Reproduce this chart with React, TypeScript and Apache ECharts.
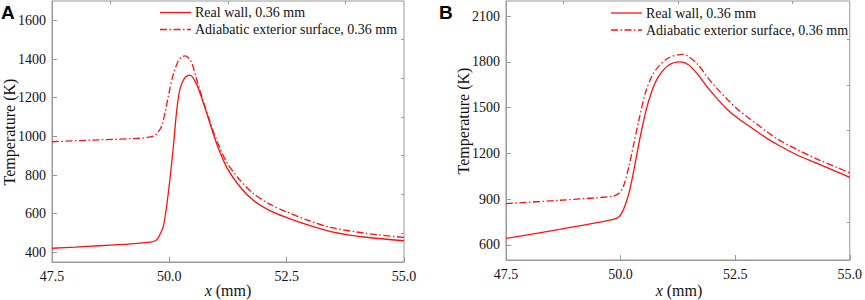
import React, { useEffect, useRef } from "react";
import * as echarts from "echarts";

// ---------- Data ----------
// Panel A
const aRealX = [47.5, 48.0, 48.5, 49.0, 49.375, 49.6, 49.7, 49.76, 49.8, 49.87, 49.94, 50.01, 50.085, 50.157, 50.227, 50.33, 50.44, 50.58, 50.72, 50.87, 51.01, 51.22, 51.51, 51.79, 52.14, 52.5, 53.0, 53.49, 54.2, 55.0];
const aRealY = [421, 427, 434, 441, 448, 453, 460, 474, 492, 532, 635, 772, 944, 1133, 1245, 1304, 1317, 1270, 1176, 1064, 961, 841, 738, 669, 616, 580, 538, 505, 478, 460];
const aAdiaX = [47.5, 48.5, 49.375, 49.6, 49.69, 49.76, 49.84, 49.91, 49.98, 50.085, 50.19, 50.26, 50.33, 50.4, 50.475, 50.58, 50.72, 50.87, 51.01, 51.22, 51.51, 51.79, 52.14, 52.5, 53.0, 53.49, 54.2, 55.0];
const aAdiaY = [972, 982, 990, 997, 1004, 1021, 1056, 1124, 1210, 1322, 1390, 1410, 1416, 1408, 1382, 1296, 1184, 1073, 978, 867, 772, 704, 649, 609, 561, 526, 498, 477];

// Panel B
const bRealX = [47.5, 48.67, 49.82, 49.96, 50.07, 50.18, 50.29, 50.4, 50.54, 50.68, 50.83, 51.04, 51.3, 51.48, 51.69, 51.91, 52.13, 52.34, 52.56, 52.77, 52.99, 53.21, 53.42, 53.85, 54.29, 54.72, 55.0];
const bRealY = [642, 701, 765, 782, 837, 936, 1090, 1266, 1463, 1606, 1705, 1777, 1800, 1782, 1716, 1628, 1551, 1485, 1430, 1386, 1340, 1295, 1258, 1189, 1134, 1079, 1042];
const bAdiaX = [47.5, 48.67, 49.82, 49.96, 50.07, 50.18, 50.29, 50.4, 50.54, 50.68, 50.83, 51.04, 51.35, 51.48, 51.69, 51.91, 52.13, 52.34, 52.56, 52.77, 52.99, 53.21, 53.42, 53.85, 54.29, 54.72, 55.0];
const bAdiaY = [870, 892, 918, 936, 991, 1112, 1266, 1419, 1595, 1705, 1771, 1826, 1850, 1836, 1782, 1694, 1617, 1551, 1488, 1438, 1388, 1338, 1295, 1225, 1162, 1108, 1072];

// Axes
const xMajor = [47.5, 50.0, 52.5, 55.0];
const xMinor = [48.75, 51.25, 53.75];
const aYMajor = [400, 600, 800, 1000, 1200, 1400, 1600];
const aYMinor = [500, 700, 900, 1100, 1300, 1500];
const bYMajor = [600, 900, 1200, 1500, 1800, 2100];
const bYMinor = [750, 1050, 1350, 1650, 1950];

const seriesNames = ["Real wall, 0.36 mm", "Adiabatic exterior surface, 0.36 mm"];
const panelLabels = ["A", "B"];
const yTitle = "Temperature (K)";

const pairs = (xs: number[], ys: number[]) => xs.map((x, i) => [x, ys[i]]);

const RED = "#ff1010";
const AXIS = "#999";
const TEXT = "#111";
const SERIF = "Liberation Serif";
const DASHDOT = [7, 2.5, 1.5, 2.5];

export default function App() {
  const ref = useRef<HTMLDivElement>(null);

  useEffect(() => {
    if (!ref.current) return;
    const chart = echarts.init(ref.current, undefined, { renderer: "svg" });

    const grids = [
      { left: 52, top: 1, width: 352, height: 261 },
      { left: 506, top: 1, width: 347, height: 259 },
    ];

    const xAxes: any[] = [];
    const yAxes: any[] = [];
    const yRanges = [
      { min: 350, max: 1700, major: aYMajor, minor: aYMinor },
      { min: 500, max: 2200, major: bYMajor, minor: bYMinor },
    ];

    grids.forEach((_, g) => {
      xAxes.push({
        type: "value",
        gridIndex: g,
        min: 47.5,
        max: 55,
        axisLine: { show: true, onZero: false, lineStyle: { color: AXIS, width: 1 } },
        axisTick: { show: true, inside: true, length: 5, customValues: xMajor, lineStyle: { color: AXIS } },
        axisLabel: {
          show: true,
          customValues: xMajor,
          color: TEXT,
          fontFamily: SERIF,
          fontSize: 14,
          margin: 7,
          formatter: (v: number) => Number(v).toFixed(1),
        },
        splitLine: { show: false },
      });
      xAxes.push({
        type: "value",
        gridIndex: g,
        min: 47.5,
        max: 55,
        axisLine: { show: false, onZero: false },
        axisTick: { show: true, inside: true, length: 3, customValues: xMinor, lineStyle: { color: AXIS } },
        axisLabel: { show: false },
        splitLine: { show: false },
      });
      const r = yRanges[g];
      yAxes.push({
        type: "value",
        gridIndex: g,
        min: r.min,
        max: r.max,
        axisLine: { show: true, onZero: false, lineStyle: { color: AXIS, width: 1 } },
        axisTick: { show: true, inside: true, length: 5, customValues: r.major, lineStyle: { color: AXIS } },
        axisLabel: {
          show: true,
          customValues: r.major,
          color: TEXT,
          fontFamily: SERIF,
          fontSize: 14,
          margin: 6,
          formatter: (v: number) => String(Math.round(Number(v))),
        },
        splitLine: { show: false },
      });
      yAxes.push({
        type: "value",
        gridIndex: g,
        min: r.min,
        max: r.max,
        axisLine: { show: false, onZero: false },
        axisTick: { show: true, inside: true, length: 3, customValues: r.minor, lineStyle: { color: AXIS } },
        axisLabel: { show: false },
        splitLine: { show: false },
      });
    });

    const lineSeries = (name: string, data: number[][], g: number, dashed: boolean) => ({
      type: "line",
      name,
      xAxisIndex: g * 2,
      yAxisIndex: g * 2,
      data,
      showSymbol: false,
      symbol: "none",
      smooth: 0.3,
      lineStyle: { color: RED, width: 1.3, type: dashed ? DASHDOT : "solid" },
      itemStyle: { color: RED },
      silent: true,
    });

    const textStyle = (text: string, extra: any = {}) => ({
      text,
      fontFamily: SERIF,
      fontSize: 14,
      fill: TEXT,
      ...extra,
    });

    const legendAt = (x0: number, yTop: number) => [
      {
        type: "line",
        shape: { x1: x0, y1: yTop, x2: x0 + 31, y2: yTop },
        style: { stroke: RED, lineWidth: 1.3 },
      },
      {
        type: "line",
        shape: { x1: x0, y1: yTop + 17, x2: x0 + 31, y2: yTop + 17 },
        style: { stroke: RED, lineWidth: 1.3, lineDash: DASHDOT },
      },
      {
        type: "text",
        x: x0 + 35,
        y: yTop,
        style: textStyle(seriesNames[0], { verticalAlign: "middle", align: "left" }),
      },
      {
        type: "text",
        x: x0 + 35,
        y: yTop + 17,
        style: textStyle(seriesNames[1], { verticalAlign: "middle", align: "left" }),
      },
    ];

    const xTitle = (cx: number) => ({
      type: "text",
      x: cx,
      y: 290,
      style: textStyle("{i|x} (mm)", {
        fontSize: 16,
        align: "center",
        verticalAlign: "middle",
        rich: { i: { fontStyle: "italic", fontFamily: SERIF, fontSize: 16, fill: TEXT } },
      }),
    });

    const yTitleEl = (cx: number, cy: number) => ({
      type: "text",
      x: cx,
      y: cy,
      rotation: Math.PI / 2,
      style: textStyle(yTitle, { fontSize: 16, align: "center", verticalAlign: "middle" }),
    });

    const panelLabel = (x: number, text: string) => ({
      type: "text",
      x,
      y: 3,
      style: {
        text,
        fontFamily: "Liberation Sans",
        fontWeight: "bold",
        fontSize: 19,
        fill: "#000",
        align: "left",
        verticalAlign: "top",
      },
    });

    chart.setOption({
      animation: false,
      backgroundColor: "#fff",
      grid: grids.map((g) => ({ ...g, show: true, borderColor: AXIS, borderWidth: 1, backgroundColor: "transparent" })),
      xAxis: xAxes,
      yAxis: yAxes,
      series: [
        lineSeries(seriesNames[0], pairs(aRealX, aRealY), 0, false),
        lineSeries(seriesNames[1], pairs(aAdiaX, aAdiaY), 0, true),
        lineSeries(seriesNames[0], pairs(bRealX, bRealY), 1, false),
        lineSeries(seriesNames[1], pairs(bAdiaX, bAdiaY), 1, true),
      ],
      graphic: [
        ...legendAt(160, 12.5),
        ...legendAt(611, 13),
        xTitle(228),
        xTitle(679),
        yTitleEl(9, 132),
        yTitleEl(463, 121),
        panelLabel(1, panelLabels[0]),
        panelLabel(439, panelLabels[1]),
      ],
    });

    return () => chart.dispose();
  }, []);

  return (
    <div
      ref={ref}
      style={{ position: "fixed", left: 0, top: 0, width: 865, height: 300, background: "#fff" }}
    />
  );
}
